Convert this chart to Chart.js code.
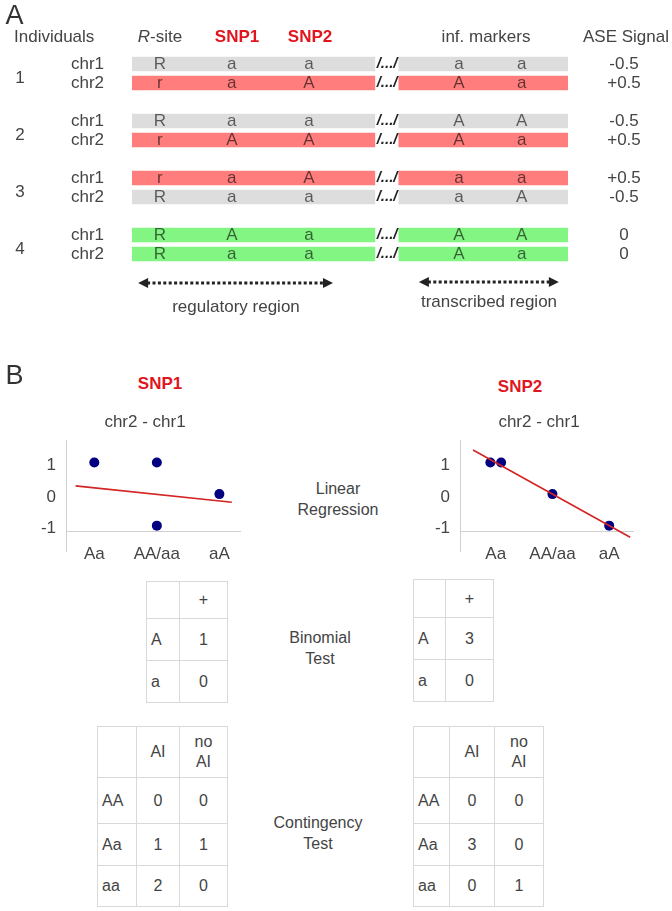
<!DOCTYPE html>
<html>
<head>
<meta charset="utf-8">
<script src="https://cdn.jsdelivr.net/npm/chart.js@4.4.1/dist/chart.umd.min.js"></script>
<style>
  html, body { margin: 0; padding: 0; background: #fff; }
  #page { position: relative; width: 672px; height: 911px; overflow: hidden;
          font-family: "Liberation Sans", Arial, sans-serif; color: #444; }
  .box { position: absolute; }
  .lbl { position: absolute; transform: translate(-50%, -50%); text-align: center;
         font-size: 17px; line-height: 21px; white-space: nowrap; }
  .lbl.mid { font-size: 16px; }
  .panel { font-size: 27px; color: #333; }
  .snp { color: #e0161e; font-weight: bold; }
  table.grid { position: absolute; border-collapse: collapse; table-layout: fixed;
               font-size: 16px; color: #444; }
  table.grid td { border: 1px solid #d9d9d9; padding: 0; text-align: center;
                  vertical-align: middle; line-height: 20px; }
  table.grid td.rowhead { text-align: left; padding-left: 4px; }
</style>
</head>
<body>
<div id="page">
  <div class="box" style="left:0;top:0;width:672px;height:320px"><canvas id="tracks"></canvas></div>
  <div class="box" style="left:0;top:420px;width:250px;height:150px"><canvas id="snp1-plot"></canvas></div>
  <div class="box" style="left:400px;top:420px;width:250px;height:150px"><canvas id="snp2-plot"></canvas></div>
</div>
<script>
// ---- data ----
const individuals = ["1", "2", "3", "4"];
const chromosomes = ["chr1", "chr2"];
// one entry per chromosome row: ind1 chr1, ind1 chr2, ind2 chr1, ...
const rSite = ["R", "r", "R", "r", "r", "R", "R", "R"];
const snp1 = ["a", "a", "a", "A", "a", "a", "A", "a"];
const snp2 = ["a", "A", "a", "A", "A", "a", "a", "a"];
const marker1 = ["a", "A", "A", "A", "a", "a", "A", "A"];
const marker2 = ["a", "a", "A", "a", "a", "A", "A", "a"];
const aseSignal = [-0.5, 0.5, -0.5, 0.5, 0.5, -0.5, 0, 0];

// positions along the drawn track (0..100)
const trackSegments = [[0, 55.7], [61.2, 100]];
const sitePositions = [6.4, 22.9, 40.6, 75.0, 89.4];
const breakPosition = 58.5;
const regulatoryRegion = [1.4, 46.1];
const transcribedRegion = [65.8, 97.9];

const genotypeNames = ["Aa", "AA/aa", "aA"];
const genotypeTicks = [1, 2, 3];
const yTicks = [-1, 0, 1];
const snp1Fit = [{ x: 0.7, y: 0.26 }, { x: 3.2, y: -0.26 }];
const snp2Fit = [{ x: 0.6, y: 1.4 }, { x: 3.37, y: -1.37 }];

const binomialAlleles = ["A", "a"];
const snp1Binomial = [1, 0];
const snp2Binomial = [3, 0];
const contingencyRows = ["AA", "Aa", "aa"];
const contingencyCols = ["AI", "no AI"];
const snp1Contingency = [[0, 0], [1, 1], [2, 0]];
const snp2Contingency = [[0, 0], [3, 0], [0, 1]];

// ---- look ----
const FONT = '"Liberation Sans", Arial, sans-serif';
const TEXT = "#444";
const RED = "#e0161e";
const AXIS = "#d0d0d0";
const rowColor = (v) => (v > 0 ? "#ff7d7d" : v < 0 ? "#dddddd" : "#82f582");
const fmtSignal = (v) => (v > 0 ? "+" + v : String(v));

Chart.defaults.font.family = FONT;
Chart.defaults.font.size = 17;
Chart.defaults.color = TEXT;

const page = document.getElementById("page");

// ---- panel A: chromosome tracks ----
const slotLabels = [];
const rowSlot = [];
individuals.forEach((ind, i) => {
  chromosomes.forEach((chr) => {
    rowSlot.push(slotLabels.length);
    slotLabels.push(ind + " " + chr);
  });
  if (i < individuals.length - 1) slotLabels.push("");
});
const alleleColumns = [rSite, snp1, snp2, marker1, marker2];

const slotRow = (s) => rowSlot.indexOf(s);
const segmentData = (seg) => slotLabels.map((_, s) => (slotRow(s) < 0 ? null : seg));
const segmentColors = slotLabels.map((_, s) =>
  slotRow(s) < 0 ? "rgba(0,0,0,0)" : rowColor(aseSignal[slotRow(s)])
);

const drawArrow = (ctx, x0, x1, y) => {
  ctx.save();
  ctx.strokeStyle = "#222";
  ctx.fillStyle = "#222";
  ctx.lineWidth = 3;
  ctx.setLineDash([3, 2.4]);
  ctx.beginPath();
  ctx.moveTo(x0 + 9, y);
  ctx.lineTo(x1 - 9, y);
  ctx.stroke();
  ctx.setLineDash([]);
  [[x0, 1], [x1, -1]].forEach(([x, dir]) => {
    ctx.beginPath();
    ctx.moveTo(x, y);
    ctx.lineTo(x + dir * 10, y - 5);
    ctx.lineTo(x + dir * 10, y + 5);
    ctx.closePath();
    ctx.fill();
  });
  ctx.restore();
};

const trackText = {
  id: "trackText",
  afterDatasetsDraw(chart) {
    const { ctx } = chart;
    const { x, y } = chart.scales;
    ctx.save();
    ctx.textBaseline = "middle";

    // header row
    const headY = 37;
    ctx.fillStyle = TEXT;
    ctx.font = "17px " + FONT;
    ctx.textAlign = "left";
    ctx.fillText("Individuals", 14, headY);
    ctx.font = "italic 17px " + FONT;
    const rW = ctx.measureText("R").width;
    ctx.font = "17px " + FONT;
    const siteW = ctx.measureText("-site").width;
    const rLeft = x.getPixelForValue(sitePositions[0]) - (rW + siteW) / 2;
    ctx.font = "italic 17px " + FONT;
    ctx.fillText("R", rLeft, headY);
    ctx.font = "17px " + FONT;
    ctx.fillText("-site", rLeft + rW, headY);
    ctx.textAlign = "center";
    ctx.fillText("inf. markers", 486, headY);
    ctx.fillText("ASE Signal", 626, headY);
    ctx.fillStyle = RED;
    ctx.font = "bold 17px " + FONT;
    ctx.fillText("SNP1", 237, headY);
    ctx.fillText("SNP2", 310, headY);

    // rows
    rowSlot.forEach((slot, r) => {
      const cy = y.getPixelForValue(slot);
      ctx.textAlign = "center";
      ctx.font = "17px " + FONT;
      ctx.fillStyle = "rgba(0,0,0,0.6)";
      alleleColumns.forEach((col, c) => {
        ctx.fillText(col[r], x.getPixelForValue(sitePositions[c]), cy);
      });
      ctx.fillStyle = "#222";
      ctx.font = "italic bold 15px " + FONT;
      ctx.fillText("/.../", x.getPixelForValue(breakPosition), cy);
      ctx.fillStyle = TEXT;
      ctx.font = "17px " + FONT;
      ctx.fillText(fmtSignal(aseSignal[r]), 624, cy);
      ctx.textAlign = "left";
      ctx.fillText(chromosomes[r % 2], 71, cy);
    });

    ctx.textAlign = "center";
    individuals.forEach((ind, i) => {
      const cy = (y.getPixelForValue(rowSlot[2 * i]) + y.getPixelForValue(rowSlot[2 * i + 1])) / 2 + 5;
      ctx.fillText(ind, 20, cy);
    });

    // region arrows
    drawArrow(ctx, x.getPixelForValue(regulatoryRegion[0]), x.getPixelForValue(regulatoryRegion[1]), 283);
    drawArrow(ctx, x.getPixelForValue(transcribedRegion[0]), x.getPixelForValue(transcribedRegion[1]), 282);
    ctx.fillStyle = TEXT;
    ctx.font = "17px " + FONT;
    ctx.fillText("regulatory region", 236, 307);
    ctx.fillText("transcribed region", 489, 302);
    ctx.restore();
  },
};

new Chart(document.getElementById("tracks"), {
  type: "bar",
  data: {
    labels: slotLabels,
    datasets: trackSegments.map((seg) => ({
      data: segmentData(seg),
      backgroundColor: segmentColors,
      borderWidth: 0,
      barThickness: 14,
      grouped: false,
    })),
  },
  options: {
    indexAxis: "y",
    animation: false,
    responsive: true,
    maintainAspectRatio: false,
    layout: { padding: { left: 132, right: 104, top: 54.5, bottom: 56.5 }, autoPadding: false },
    plugins: { legend: { display: false }, tooltip: { enabled: false } },
    scales: {
      x: { type: "linear", min: 0, max: 100, display: false },
      y: { type: "category", display: false },
    },
  },
  plugins: [trackText],
});

// ---- panel B: regression plots ----
const genotypeX = { Aa: 1, AA: 2, aa: 2, aA: 3 };

function scatterPoints(alleles) {
  // genotype written as chr2 allele then chr1 allele, signal = chr2 - chr1
  const pts = individuals.map((_, i) => ({
    x: genotypeX[alleles[2 * i + 1] + alleles[2 * i]],
    y: aseSignal[2 * i + 1] - aseSignal[2 * i],
  }));
  const keys = pts.map((p) => p.x + "," + p.y);
  return pts.map((p, k) => {
    const group = keys.map((kk, idx) => (kk === keys[k] ? idx : -1)).filter((idx) => idx >= 0);
    if (group.length < 2) return p;
    const pos = group.indexOf(k);
    return { x: p.x + (pos - (group.length - 1) / 2) * 0.19, y: p.y };
  });
}

const axisTail = {
  id: "axisTail",
  afterDraw(chart) {
    const { ctx, chartArea } = chart;
    const xPix = Math.round(chartArea.left) + 0.5;
    ctx.save();
    ctx.strokeStyle = AXIS;
    ctx.lineWidth = 1;
    ctx.beginPath();
    ctx.moveTo(xPix, chartArea.bottom);
    ctx.lineTo(xPix, chartArea.bottom + 21);
    ctx.stroke();
    ctx.restore();
  },
};

function makeScatter(id, alleles, fit, xMin, xMax, axisWidth, padRight) {
  return new Chart(document.getElementById(id), {
    type: "scatter",
    data: {
      datasets: [
        {
          type: "line",
          data: fit,
          borderColor: "#d42424",
          borderWidth: 1.6,
          pointRadius: 0,
          showLine: true,
          clip: false,
          order: -1,
        },
        {
          data: scatterPoints(alleles),
          pointRadius: 5,
          pointHoverRadius: 5,
          backgroundColor: "#000080",
          borderWidth: 0,
          clip: false,
        },
      ],
    },
    options: {
      animation: false,
      responsive: true,
      maintainAspectRatio: false,
      layout: { padding: { top: 10, right: padRight, left: 0, bottom: 0 }, autoPadding: false },
      plugins: { legend: { display: false }, tooltip: { enabled: false } },
      scales: {
        x: {
          type: "linear",
          min: xMin,
          max: xMax,
          grid: { display: false, drawTicks: false },
          border: { display: true, color: AXIS },
          afterBuildTicks: (s) => { s.ticks = genotypeTicks.map((v) => ({ value: v })); },
          afterFit: (s) => { s.height = 39; },
          ticks: {
            padding: 13,
            maxRotation: 0,
            autoSkip: false,
            callback: (v) => genotypeNames[genotypeTicks.indexOf(v)],
          },
        },
        y: {
          type: "linear",
          min: -1.17,
          max: 1.71,
          grid: { display: false, drawTicks: false },
          border: { display: true, color: AXIS },
          afterBuildTicks: (s) => { s.ticks = yTicks.map((v) => ({ value: v })); },
          afterFit: (s) => { s.width = axisWidth; },
          ticks: { padding: 10, labelOffset: 3, callback: (v) => String(v) },
        },
      },
    },
    plugins: [axisTail],
  });
}

makeScatter("snp1-plot", snp1, snp1Fit, 0.547, 3.33, 66, 10);
makeScatter("snp2-plot", snp2, snp2Fit, 0.37, 3.42, 60, 17);

// ---- labels and tables ----
function label(html, cx, cy, cls) {
  const d = document.createElement("div");
  d.className = "lbl" + (cls ? " " + cls : "");
  d.style.left = cx + "px";
  d.style.top = cy + "px";
  d.innerHTML = html;
  page.appendChild(d);
}

label("A", 14.5, 15, "panel");
label("B", 14.5, 375, "panel");
label("SNP1", 160, 383, "snp");
label("SNP2", 520, 386, "snp");
label("chr2 - chr1", 145, 421);
label("chr2 - chr1", 539, 421);
label("Linear<br>Regression", 338, 498.5, "mid");
label("Binomial<br>Test", 320, 648, "mid");
label("Contingency<br>Test", 318, 833, "mid");

function buildTable(left, top, colWidths, rowHeights, rows) {
  const t = document.createElement("table");
  t.className = "grid";
  t.style.left = left + "px";
  t.style.top = top + "px";
  t.style.width = colWidths.reduce((a, b) => a + b, 0) + "px";
  const cg = document.createElement("colgroup");
  colWidths.forEach((w) => {
    const c = document.createElement("col");
    c.style.width = w + "px";
    cg.appendChild(c);
  });
  t.appendChild(cg);
  const body = document.createElement("tbody");
  t.appendChild(body);
  rows.forEach((cells, r) => {
    const tr = body.insertRow();
    tr.style.height = rowHeights[r] + "px";
    cells.forEach((txt, c) => {
      const td = tr.insertCell();
      if (c === 0 && r > 0) td.className = "rowhead";
      String(txt).split(" ").forEach((part, k) => {
        if (k) td.appendChild(document.createElement("br"));
        td.appendChild(document.createTextNode(part));
      });
    });
  });
  page.appendChild(t);
}

const binomialTable = (counts) => [["", "+"], ...binomialAlleles.map((a, i) => [a, counts[i]])];
const contingencyTable = (counts) => [["", ...contingencyCols], ...contingencyRows.map((g, i) => [g, ...counts[i]])];

buildTable(146, 581, [33, 48], [37, 42, 42], binomialTable(snp1Binomial));
buildTable(413, 579, [32, 48], [38, 42, 42], binomialTable(snp2Binomial));
buildTable(97, 726, [39, 43, 48], [51, 46, 42, 41], contingencyTable(snp1Contingency));
buildTable(413, 726, [36, 45, 49], [51, 46, 42, 41], contingencyTable(snp2Contingency));
</script>
</body>
</html>
